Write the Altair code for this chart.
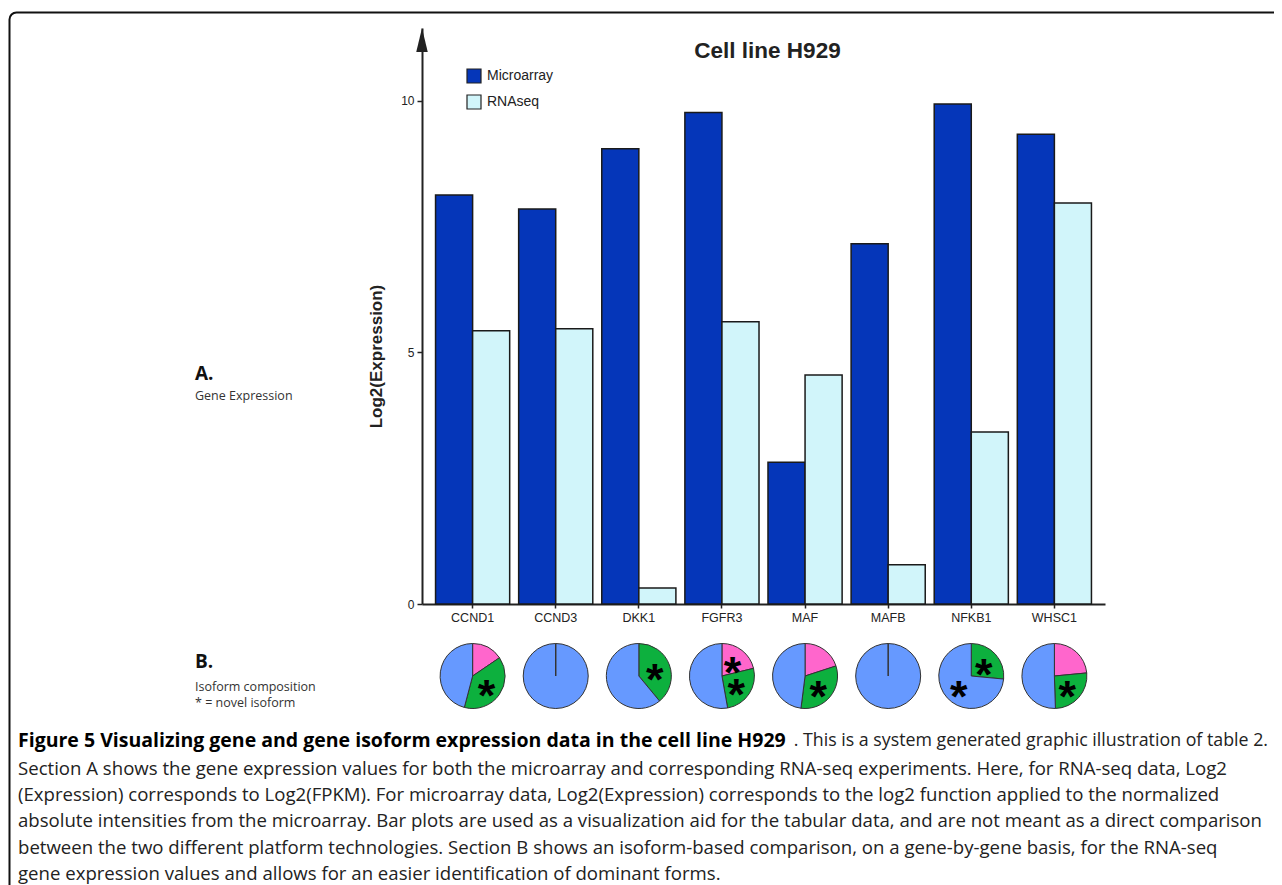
import altair as alt
import pandas as pd

# ---------------- data ----------------
genes = ["CCND1", "CCND3", "DKK1", "FGFR3", "MAF", "MAFB", "NFKB1", "WHSC1"]
series = ["Microarray", "RNAseq"]
microarray = [8.13, 7.85, 9.05, 9.77, 2.82, 7.16, 9.94, 9.34]
rnaseq = [5.43, 5.47, 0.32, 5.61, 4.55, 0.78, 3.42, 7.97]
y_ticks = [0, 5, 10]

iso_names = ["Isoform 1", "Isoform 2", "Isoform 3"]
pie_gene = ["CCND1", "CCND1", "CCND1", "CCND3", "DKK1", "DKK1",
            "FGFR3", "FGFR3", "FGFR3", "MAF", "MAF", "MAF", "MAFB",
            "NFKB1", "NFKB1", "WHSC1", "WHSC1", "WHSC1"]
pie_isoform = ["Isoform 1", "Isoform 2", "Isoform 3", "Isoform 3", "Isoform 2", "Isoform 3",
               "Isoform 1", "Isoform 2", "Isoform 3", "Isoform 1", "Isoform 2", "Isoform 3", "Isoform 3",
               "Isoform 2", "Isoform 3", "Isoform 1", "Isoform 2", "Isoform 3"]
pie_share = [0.155, 0.386, 0.459, 1.0, 0.39, 0.61,
             0.212, 0.26, 0.528, 0.20, 0.32, 0.48, 1.0,
             0.265, 0.735, 0.235, 0.26, 0.505]
pie_novel = [False, True, False, False, True, False,
             True, True, False, False, True, False, False,
             True, True, False, True, False]

chart_title = "Cell line H929"
y_title = "Log2(Expression)"
section_a = ["A.", "Gene Expression"]
section_b = ["B.", "Isoform composition", "* = novel isoform"]
caption_bold = "Figure 5 Visualizing gene and gene isoform expression data in the cell line H929"
caption_lines = [
    ". This is a system generated graphic illustration of table 2.",
    "Section A shows the gene expression values for both the microarray and corresponding RNA-seq experiments. Here, for RNA-seq data, Log2",
    "(Expression) corresponds to Log2(FPKM). For microarray data, Log2(Expression) corresponds to the log2 function applied to the normalized",
    "absolute intensities from the microarray. Bar plots are used as a visualization aid for the tabular data, and are not meant as a direct comparison",
    "between the two different platform technologies. Section B shows an isoform-based comparison, on a gene-by-gene basis, for the RNA-seq",
    "gene expression values and allows for an easier identification of dominant forms.",
]

# ---------------- tables ----------------
bars_df = pd.DataFrame({
    "gene": genes * 2,
    "series": [series[0]] * len(genes) + [series[1]] * len(genes),
    "value": microarray + rnaseq,
})
pies_df = pd.DataFrame({"gene": pie_gene, "isoform": pie_isoform,
                        "share": pie_share, "novel": pie_novel})
one = pd.DataFrame({"k": [0]})

AX = "Liberation Sans"
OS = "Open Sans"
PIE_Y = 648
PIE_R = 32.5

x_enc = alt.X("gene:N", sort=genes,
              scale=alt.Scale(paddingInner=0.108, paddingOuter=0.163),
              axis=alt.Axis(title=None, labelAngle=0, labelFont=AX, labelFontSize=12.5,
                            labelColor="#222", tickSize=4, tickWidth=1.5, tickColor="#222",
                            labelPadding=3, domainWidth=2, domainColor="#222", grid=False))

theta_scale = alt.Scale(domain=[0, 1], range=[0, 6.283185307179586])

# frame
frame = alt.Chart(one).mark_rect(fillOpacity=0, stroke="#111", strokeWidth=2,
                                 cornerRadius=7).encode(
    x=alt.value(-412.5), x2=alt.value(1500), y=alt.value(-15.5), y2=alt.value(1500))

bars = alt.Chart(bars_df).mark_bar(stroke="#1a1a1a", strokeWidth=1.5).encode(
    x=x_enc,
    xOffset=alt.XOffset("series:N", sort=series),
    y=alt.Y("value:Q",
            scale=alt.Scale(domain=[0, 11.45], nice=False, zero=True),
            axis=alt.Axis(values=y_ticks, title=y_title, grid=False,
                          titleFont=AX, titleFontSize=17, titleFontWeight="bold",
                          titleColor="#222", titleAngle=270, titleX=-46, titleY=328,
                          titleAlign="center", titleBaseline="middle",
                          labelFont=AX, labelFontSize=12, labelColor="#222",
                          tickSize=5, tickWidth=1.5, tickColor="#222", labelPadding=3,
                          domainWidth=2, domainColor="#222")),
    color=alt.Color("series:N",
                    scale=alt.Scale(domain=series, range=["#0536B9", "#D1F5FA"]),
                    legend=alt.Legend(title=None, orient="none", legendX=44, legendY=40,
                                      direction="vertical", symbolType="square",
                                      symbolSize=196, symbolStrokeColor="#222",
                                      symbolStrokeWidth=1.2, labelFont=AX,
                                      labelFontSize=14, labelColor="#222",
                                      labelOffset=5, rowPadding=6, padding=0)),
)

arrow = alt.Chart(one).mark_point(
    shape="M0,-1L0.48,1L-0.48,1Z", filled=True, color="#222", opacity=1, size=576
).encode(x=alt.value(0), y=alt.value(12))

pie_base = alt.Chart(pies_df).transform_window(
    end="sum(share)", groupby=["gene"], sort=[alt.SortField("isoform")], frame=[None, 0]
).transform_calculate(start="datum.end - datum.share", mid="datum.end - datum.share / 2")

arcs = pie_base.mark_arc(radius=PIE_R, stroke="#333", strokeWidth=1).encode(
    x=x_enc,
    y=alt.value(PIE_Y),
    theta=alt.Theta("start:Q", scale=theta_scale, stack=None),
    theta2="end:Q",
    color=alt.Color("isoform:N",
                    scale=alt.Scale(domain=iso_names, range=["#FF66CC", "#0DB03E", "#6699FF"]),
                    legend=None),
)

spokes = pie_base.transform_filter("datum.share >= 1").mark_rule(
    color="#333", strokeWidth=1.5).encode(
    x=x_enc, y=alt.value(PIE_Y), y2=alt.value(PIE_Y - PIE_R))

stars = pie_base.transform_filter("datum.novel").mark_text(
    text="*", font=AX, fontWeight="bold", fontSize=45, dy=25,
    baseline="alphabetic", align="center", color="#000").encode(
    x=x_enc, y=alt.value(PIE_Y),
    theta=alt.Theta("mid:Q", scale=theta_scale, stack=None),
    radius=alt.value(17))


def label(text, x, y, size, font=OS, weight="normal", color="#333", align="left"):
    return alt.Chart(one).mark_text(
        text=text, font=font, fontSize=size, fontWeight=weight, color=color,
        align=align, baseline="middle").encode(x=alt.value(x), y=alt.value(y))


texts = [
    label(chart_title, 345.5, 22.5, 22.5, font=AX, weight="bold", color="#222", align="center"),
    label(section_a[0], -227, 345.5, 19, weight="bold", color="#111"),
    label(section_a[1], -227, 367.5, 12.5),
    label(section_b[0], -227, 633.5, 19, weight="bold", color="#111"),
    label(section_b[1], -227, 659, 12.5),
    label(section_b[2], -227, 675, 12.5),
    label(caption_bold, -404, 713, 19.5, weight="bold", color="#000"),
    label(caption_lines[0], 846, 713, 17.8, color="#222", align="right"),
]
cap_y = [741, 767, 793, 820, 846]
for line, yy in zip(caption_lines[1:], cap_y):
    texts.append(label(line, -404, yy, 18.6, color="#222"))

chart = alt.layer(frame, bars, arrow, arcs, spokes, stars, *texts).resolve_scale(
    color="independent"
).properties(
    width=683, height=576,
    autosize=alt.AutoSizeParams(type="none"),
    padding={"left": 414, "top": 20, "right": 169, "bottom": 281},
).configure_view(stroke="transparent")

chart.save("out.html", embed_options={"renderer": "svg", "actions": False})
